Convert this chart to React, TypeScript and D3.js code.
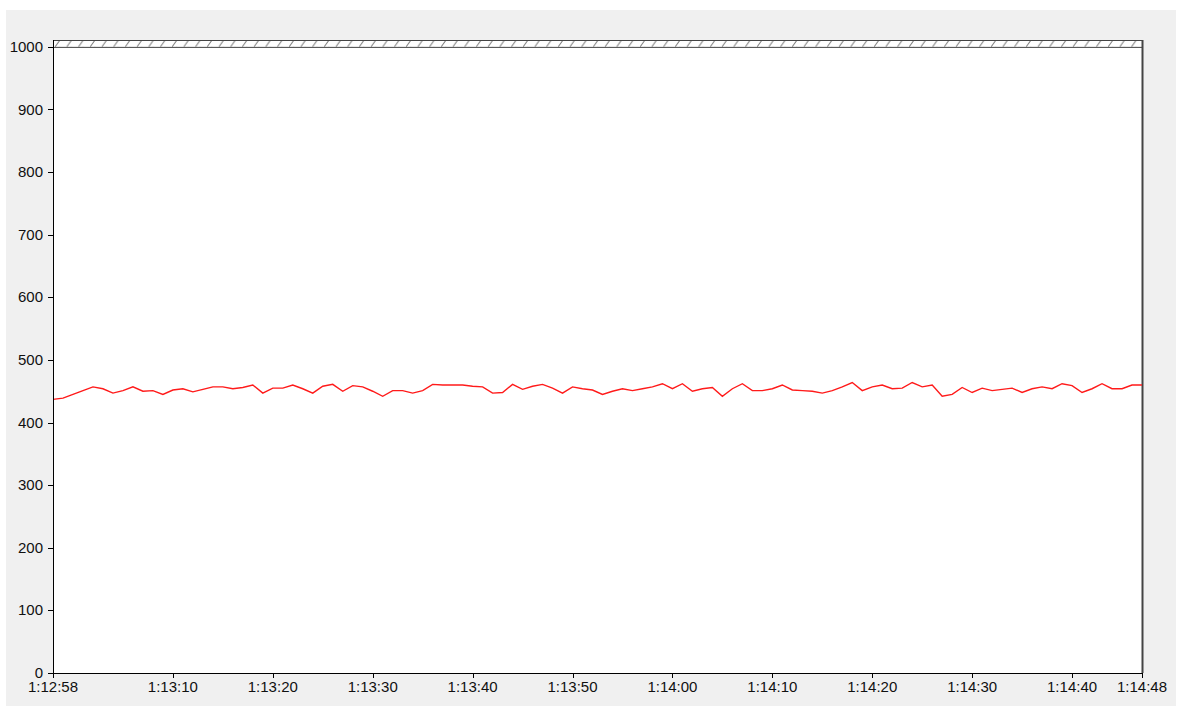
import React from "react";
import * as d3 from "d3";

// Sampled values, one per second starting at 1:12:58
const values: number[] = [
  437, 439, 445, 451, 457, 454, 447, 451, 457, 450,
  451, 445, 452, 454, 449, 453, 457, 457, 454, 456,
  460, 447, 455, 455, 460, 454, 447, 458,
  461, 450, 459, 457, 450, 442, 451, 451, 447, 451,
  461, 460, 460, 460, 458, 457, 447, 448, 461, 453,
  458, 461, 455, 447, 457, 454, 452,
  445, 450, 454, 451, 454, 457, 462, 454, 462, 450,
  454, 456, 442, 454, 462, 451, 451, 454, 460, 452,
  451, 450, 447, 451, 457, 464, 451,
  457, 460, 454, 455, 464, 457, 460, 442, 445, 456,
  448, 455, 451, 453, 455, 448, 454, 457, 454, 462,
  459, 448, 454, 462, 454, 454, 460, 460,
];

// seconds since 1:12:58 and their labels
const xTickSeconds: number[] = [0, 12, 22, 32, 42, 52, 62, 72, 82, 92, 102, 109];
const xTickLabels: string[] = [
  "1:12:58", "1:13:10", "1:13:20", "1:13:30", "1:13:40", "1:13:50",
  "1:14:00", "1:14:10", "1:14:20", "1:14:30", "1:14:40", "1:14:48",
];
const yTicks: number[] = [0, 100, 200, 300, 400, 500, 600, 700, 800, 900, 1000];
const yMax = 1000;
const yTop = 1011;

const W = 1184;
const H = 707;
const left = 53;
const right = 1142;
const top = 40;
const bottom = 673;

export default function App() {
  const x = d3.scaleLinear().domain([0, 109]).range([left, right]);
  const y = d3.scaleLinear().domain([0, yTop]).range([bottom, top]);
  const line = d3
    .line<number>()
    .x((_, i) => x(i))
    .y((d) => y(d));
  const font = "'Liberation Sans', Arial, sans-serif";
  const yMaxPx = y(yMax);
  return (
    <svg
      width={W}
      height={H}
      style={{ position: "absolute", left: 0, top: 0, display: "block" }}
      fontFamily={font}
    >
      <defs>
        <pattern id="hatch" patternUnits="userSpaceOnUse" width={11.7} height={yMaxPx - top} x={left + 2} y={top}>
          <line x1={0} y1={yMaxPx - top} x2={5} y2={0} stroke="#777" strokeWidth={1} />
        </pattern>
      </defs>
      <rect x={0} y={0} width={W} height={H} fill="#fff" />
      <rect x={6} y={10} width={1170} height={696} fill="#f0f0f0" />
      <rect x={left} y={top} width={right - left} height={bottom - top} fill="#fff" />
      <rect x={left} y={top} width={right - left} height={yMaxPx - top} fill="url(#hatch)" />
      {/* frame */}
      <line x1={left} x2={right} y1={top + 0.5} y2={top + 0.5} stroke="#444" />
      <line x1={left} x2={right} y1={yMaxPx + 0.5} y2={yMaxPx + 0.5} stroke="#444" />
      <line x1={right + 0.5} x2={right + 0.5} y1={top} y2={bottom} stroke="#444" strokeWidth={2} />
      {/* data line */}
      <path d={line(values) || ""} fill="none" stroke="#ff1a1a" strokeWidth={1.4} />
      {/* y axis */}
      <line x1={left + 0.5} x2={left + 0.5} y1={top} y2={bottom + 1} stroke="#000" />
      {yTicks.map((t) => (
        <g key={t}>
          <line x1={left - 5} x2={left} y1={Math.round(y(t)) + 0.5} y2={Math.round(y(t)) + 0.5} stroke="#000" />
          <text x={left - 10} y={y(t)} dy="0.34em" textAnchor="end" fontSize={15} fill="#111">
            {t}
          </text>
        </g>
      ))}
      {/* x axis */}
      <line x1={left} x2={right + 1} y1={bottom + 0.5} y2={bottom + 0.5} stroke="#000" />
      {xTickSeconds.map((s, i) => (
        <g key={s}>
          <line x1={Math.round(x(s)) + 0.5} x2={Math.round(x(s)) + 0.5} y1={bottom} y2={bottom + 5} stroke="#000" />
          <text x={x(s)} y={bottom + 19} textAnchor="middle" fontSize={15} fill="#111">
            {xTickLabels[i]}
          </text>
        </g>
      ))}
    </svg>
  );
}
